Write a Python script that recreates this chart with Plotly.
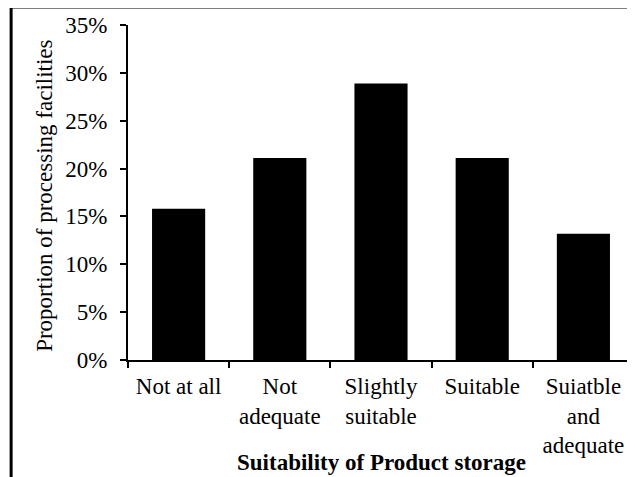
import plotly.graph_objects as go

categories = ["Not at all", "Not<br>adequate", "Slightly<br>suitable", "Suitable", "Suiatble<br>and<br>adequate"]
proportions = [0.158, 0.211, 0.289, 0.211, 0.132]
y_ticks = [0, 0.05, 0.10, 0.15, 0.20, 0.25, 0.30, 0.35]

FONT = "Liberation Serif, Times New Roman, serif"
FS = 23

fig = go.Figure(go.Bar(x=categories, y=proportions, marker=dict(color="black", line=dict(width=0))))

# the page body adds an 8px margin, so the figure is 8px smaller and everything shifted
fig.update_layout(
    width=627, height=469,
    margin=dict(l=120, r=1, t=17, b=117),
    paper_bgcolor="white", plot_bgcolor="white",
    bargap=0.475,
    showlegend=False,
    font=dict(family=FONT, size=FS, color="black"),
    xaxis=dict(
        showline=True, linecolor="black", linewidth=2,
        ticks="outside", ticklen=6, tickwidth=2, tickcolor="black",
        tickson="boundaries", showgrid=False,
        ticklabelstandoff=4,
        tickfont=dict(family=FONT, size=FS, color="black"),
    ),
    yaxis=dict(
        range=[0, 0.35], tickvals=y_ticks, tickformat=".0%",
        showline=True, linecolor="black", linewidth=2,
        ticks="outside", ticklen=6, tickwidth=2, tickcolor="black",
        ticklabelstandoff=8,
        showgrid=False, zeroline=False,
        tickfont=dict(family=FONT, size=FS, color="black"),
    ),
    annotations=[
        dict(text="Suitability of Product storage", xref="paper", yref="paper",
             x=0.5, y=-0.306, xanchor="center", yanchor="middle", showarrow=False,
             font=dict(family=FONT, size=FS, color="black", weight="bold")),
        dict(text="Proportion of processing facilities", xref="paper", yref="paper",
             x=-0.164, y=0.49, xanchor="center", yanchor="middle", showarrow=False,
             textangle=-90, font=dict(family=FONT, size=FS, color="black")),
    ],
    shapes=[
        dict(type="rect", xref="paper", yref="paper", x0=-0.231, y0=-0.6, x1=1.2, y1=1.054,
             line=dict(color="black", width=3)),
    ],
)

fig.write_html("out.html")
